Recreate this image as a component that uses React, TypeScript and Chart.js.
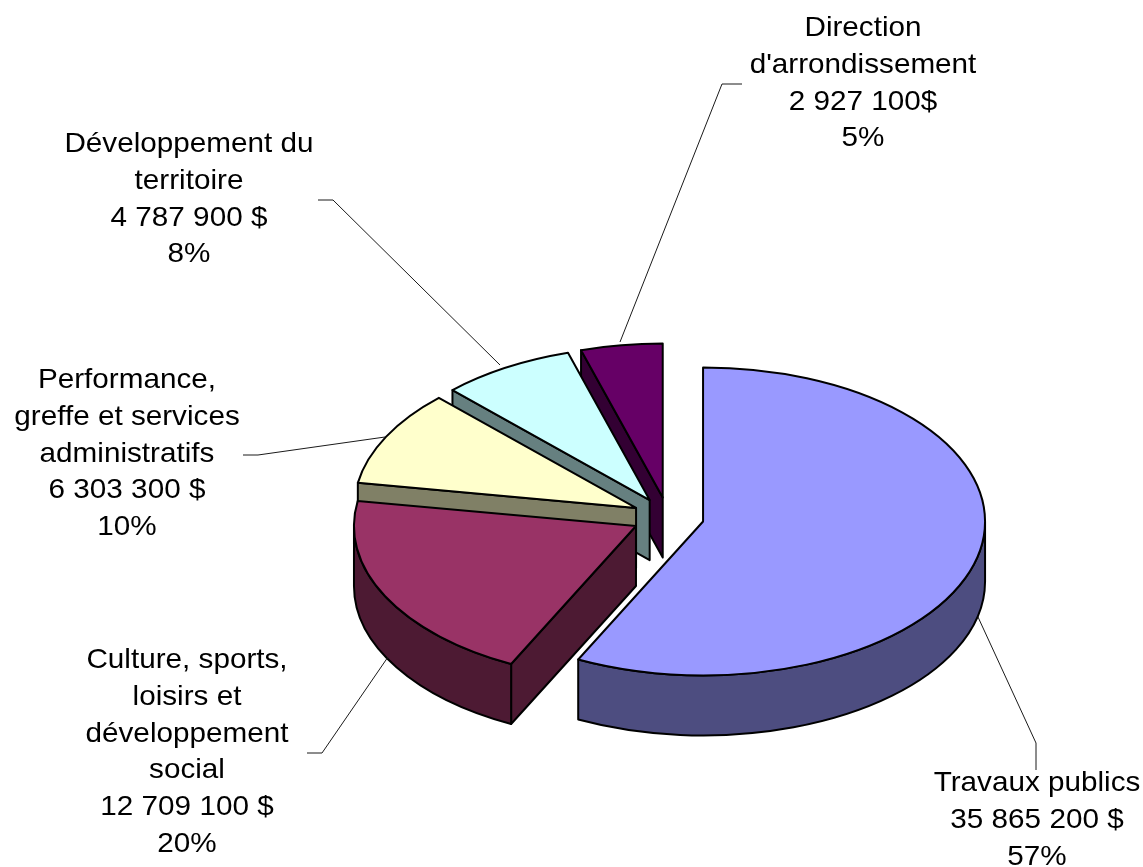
import React, { useEffect, useRef } from "react";
import { Chart, registerables } from "chart.js";

Chart.register(...registerables);

const categories = [
  "Travaux publics",
  "Culture, sports, loisirs et développement social",
  "Performance, greffe et services administratifs",
  "Développement du territoire",
  "Direction d'arrondissement",
];
const budgetValues = [35865200, 12709100, 6303300, 4787900, 2927100];
const topColors = ["#9999ff", "#993366", "#ffffcc", "#ccffff", "#660066"];
const sideColors = ["#4d4d80", "#4d1a33", "#808066", "#668080", "#330033"];

const labelLines = [
  ["Travaux publics", "35 865 200 $", "57%"],
  ["Culture, sports,", "loisirs et", "développement", "social", "12 709 100 $", "20%"],
  ["Performance,", "greffe et services", "administratifs", "6 303 300 $", "10%"],
  ["Développement du", "territoire", "4 787 900 $", "8%"],
  ["Direction", "d'arrondissement", "2 927 100$", "5%"],
];
const labelAnchors = [
  [1037, 791],
  [187, 668],
  [127, 388],
  [189, 152],
  [863, 36],
];
const leaderLines = [
  [[1036, 770], [1036, 743], [978, 617]],
  [[307, 753], [322, 753], [388, 657]],
  [[243, 455], [258, 455], [385, 437]],
  [[318, 200], [333, 200], [500, 365]],
  [[742, 84], [722, 84], [620, 342]],
];

const FLATTEN = 0.546;
const DEPTH = 60;
const EXPLODE = 36;
const RADIUS = 282;
const LINE_HEIGHT = 36.8;
const FONT_SIZE = 28;
const TEXT_STRETCH = 1.06;

// Chart.js widens an offset arc by offset * (1 - sin(circumference)) when it draws it;
// take that back so that all the slices share one true radius.
function equaliseRadius(arc: any) {
  const growth = EXPLODE * (1 - Math.sin(Math.min(Math.PI, arc.circumference)));
  arc.outerRadius = RADIUS - growth;
}

function geometry(arc: any) {
  const mid = (arc.startAngle + arc.endAngle) / 2;
  return {
    ox: arc.x + Math.cos(mid) * EXPLODE,
    oy: arc.y + Math.sin(mid) * EXPLODE,
    r: RADIUS,
    a0: arc.startAngle,
    a1: arc.endAngle,
  };
}

const pie3d = {
  id: "pie3d",
  beforeDatasetsDraw(chart: any) {
    const ctx = chart.ctx;
    const arcs = chart.getDatasetMeta(0).data;
    arcs.forEach(equaliseRadius);
    const cy = arcs[0].y;
    const sy = (y: number) => cy + (y - cy) * FLATTEN;
    ctx.save();
    ctx.lineWidth = 2;
    ctx.lineJoin = "round";
    ctx.strokeStyle = "#000";
    for (let i = arcs.length - 1; i >= 0; i--) {
      const g = geometry(arcs[i]);
      ctx.fillStyle = sideColors[i];
      const ax = g.ox;
      const ay = sy(g.oy);
      const wall = (t: number) => {
        const px = g.ox + g.r * Math.cos(t);
        const py = sy(g.oy + g.r * Math.sin(t));
        ctx.beginPath();
        ctx.moveTo(ax, ay);
        ctx.lineTo(px, py);
        ctx.lineTo(px, py + DEPTH);
        ctx.lineTo(ax, ay + DEPTH);
        ctx.closePath();
        ctx.fill();
        ctx.stroke();
      };
      if (-Math.cos(g.a0) > 1e-6) wall(g.a0);
      if (Math.cos(g.a1) > 1e-6) wall(g.a1);
      // outer rim: only the front half of the cylinder can be seen
      const ranges = [
        [Math.max(g.a0, -Math.PI * 2), Math.min(g.a1, -Math.PI)],
        [Math.max(g.a0, 0), Math.min(g.a1, Math.PI)],
        [Math.max(g.a0, Math.PI * 2), Math.min(g.a1, Math.PI * 3)],
      ];
      for (const [s, e] of ranges) {
        if (e <= s) continue;
        ctx.beginPath();
        ctx.ellipse(ax, ay, g.r, g.r * FLATTEN, 0, s, e);
        ctx.ellipse(ax, ay + DEPTH, g.r, g.r * FLATTEN, 0, e, s, true);
        ctx.closePath();
        ctx.fill();
        ctx.stroke();
      }
    }
    ctx.restore();
    // flatten the library's own pie slices
    ctx.save();
    ctx.translate(0, cy);
    ctx.scale(1, FLATTEN);
    ctx.translate(0, -cy);
  },
  afterDatasetsDraw(chart: any) {
    const ctx = chart.ctx;
    ctx.restore();
    const arcs = chart.getDatasetMeta(0).data;
    const cy = arcs[0].y;
    ctx.save();
    ctx.lineWidth = 2;
    ctx.lineJoin = "round";
    ctx.strokeStyle = "#000";
    for (const arc of arcs) {
      const g = geometry(arc);
      const ay = cy + (g.oy - cy) * FLATTEN;
      ctx.beginPath();
      ctx.moveTo(g.ox, ay);
      ctx.ellipse(g.ox, ay, g.r, g.r * FLATTEN, 0, g.a0, g.a1);
      ctx.closePath();
      ctx.fillStyle = arc.options.backgroundColor;
      ctx.fill();
      ctx.stroke();
    }
    ctx.restore();
    // leader lines and labels
    ctx.save();
    ctx.lineWidth = 1;
    ctx.strokeStyle = "#1a1a1a";
    for (const line of leaderLines) {
      ctx.beginPath();
      line.forEach(([x, y], k) => (k ? ctx.lineTo(x, y) : ctx.moveTo(x, y)));
      ctx.stroke();
    }
    ctx.fillStyle = "#000";
    ctx.font = `${FONT_SIZE}px "Liberation Sans", Arial, sans-serif`;
    ctx.textAlign = "center";
    ctx.textBaseline = "alphabetic";
    labelLines.forEach((lines, i) => {
      const [x, y] = labelAnchors[i];
      lines.forEach((text, k) => {
        ctx.save();
        ctx.translate(x, y + k * LINE_HEIGHT);
        ctx.scale(TEXT_STRETCH, 1);
        ctx.fillText(text, 0, 0);
        ctx.restore();
      });
    });
    ctx.restore();
  },
};

export default function App() {
  const ref = useRef<HTMLCanvasElement | null>(null);
  useEffect(() => {
    const chart = new Chart(ref.current as HTMLCanvasElement, {
      type: "pie",
      data: {
        labels: categories,
        datasets: [
          {
            data: budgetValues,
            backgroundColor: topColors,
            borderWidth: 0,
            offset: EXPLODE * 4,
            radius: RADIUS,
            clip: false,
          } as any,
        ],
      },
      options: {
        responsive: false,
        animation: false,
        rotation: 0,
        layout: { padding: { left: 193, top: 167 } },
        plugins: { legend: { display: false }, tooltip: { enabled: false } },
      },
      plugins: [pie3d],
    });
    return () => chart.destroy();
  }, []);
  return (
    <div style={{ position: "absolute", left: 0, top: 0, width: 1143, height: 867, background: "#fff" }}>
      <canvas ref={ref} width={1143} height={867} style={{ display: "block" }} />
    </div>
  );
}
